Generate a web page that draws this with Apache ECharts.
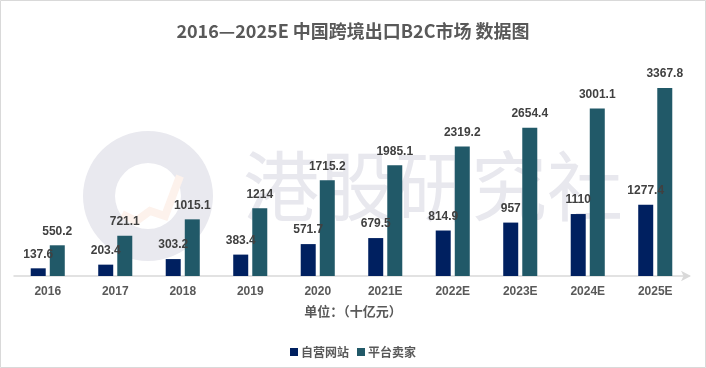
<!DOCTYPE html>
<html>
<head>
<meta charset="utf-8">
<script src="https://cdn.jsdelivr.net/npm/echarts@6/dist/echarts.min.js"></script>
<style>
html,body{margin:0;padding:0;background:#fff;}
#c{width:706px;height:368px;}
</style>
</head>
<body>
<div id="c"></div>
<script>
var categories = ['2016','2017','2018','2019','2020','2021E','2022E','2023E','2024E','2025E'];
var selfSite = [137.6, 203.4, 303.2, 383.4, 571.7, 679.5, 814.9, 957, 1110, 1277.4];
var platform = [550.2, 721.1, 1015.1, 1214, 1715.2, 1985.1, 2319.2, 2654.4, 3001.1, 3367.8];
var seriesNames = ['自营网站', '平台卖家'];
var titleText = '2016—2025E 中国跨境出口B2C市场 数据图';
var unitText = '单位：（十亿元）';
var watermarkText = '港股研究社';

var chart = echarts.init(document.getElementById('c'), null, {renderer: 'canvas'});
var cjk = '"Noto Sans CJK SC", "Liberation Sans", sans-serif';
var num = '"Liberation Sans", "Noto Sans CJK SC", sans-serif';
var labelStyle = {
  show: true, position: 'top', distance: 8,
  color: '#404040', fontWeight: 'bold', fontSize: 12, fontFamily: num
};
chart.setOption({
  animation: false,
  backgroundColor: '#ffffff',
  title: {
    text: titleText, left: 'center', top: 17,
    textStyle: {color: '#595959', fontSize: 18, fontWeight: 'bold', fontFamily: cjk}
  },
  graphic: [
    {type: 'rect', z: 100, shape: {x: 0.5, y: 0.5, width: 705, height: 367},
     style: {fill: 'none', stroke: '#d9d9d9', lineWidth: 1}},
    {type: 'ring', z: -10, shape: {cx: 148, cy: 196, r: 65, r0: 33},
     style: {fill: '#e9e9ef'}},
    {type: 'polyline', z: -10, shape: {points: [[122, 214], [136, 221], [150, 211], [165, 216], [180, 176]]},
     style: {stroke: '#fdf2ec', lineWidth: 8, fill: 'none'}},
    {type: 'text', z: -10, left: 243, top: 148,
     style: {text: watermarkText, fill: '#e8e8ee', fontSize: 76, fontFamily: cjk, fontWeight: 'normal'}},
    {type: 'text', left: 'center', top: 305,
     style: {text: unitText, fill: '#595959', fontSize: 13, fontWeight: 'bold', fontFamily: cjk}}
  ],
  legend: {
    data: seriesNames, left: 'center', top: 341,
    itemWidth: 8, itemHeight: 8, itemGap: 8, icon: 'rect',
    textStyle: {color: '#595959', fontSize: 12, fontWeight: 'bold', fontFamily: cjk, padding: [0, 0, 0, -2]}
  },
  grid: {left: 14, right: 17, top: 60, bottom: 92, containLabel: false},
  xAxis: {
    type: 'category', data: categories,
    axisLine: {lineStyle: {color: '#d9d9d9', width: 1.5}, symbol: ['none', 'arrow'], symbolSize: [8, 10], symbolOffset: [0, 2]},
    axisTick: {show: false},
    axisLabel: {color: '#595959', fontWeight: 'bold', fontSize: 12, fontFamily: num, margin: 10}
  },
  yAxis: {
    type: 'value', min: 0, max: 3870, show: false,
    splitLine: {show: false}
  },
  series: [
    {name: seriesNames[0], type: 'bar', data: selfSite, barWidth: 15, barGap: '27%', barCategoryGap: '50%',
     itemStyle: {color: '#002060'}, label: labelStyle},
    {name: seriesNames[1], type: 'bar', data: platform, barWidth: 15,
     itemStyle: {color: '#215968'}, label: labelStyle}
  ]
});
</script>
</body>
</html>
